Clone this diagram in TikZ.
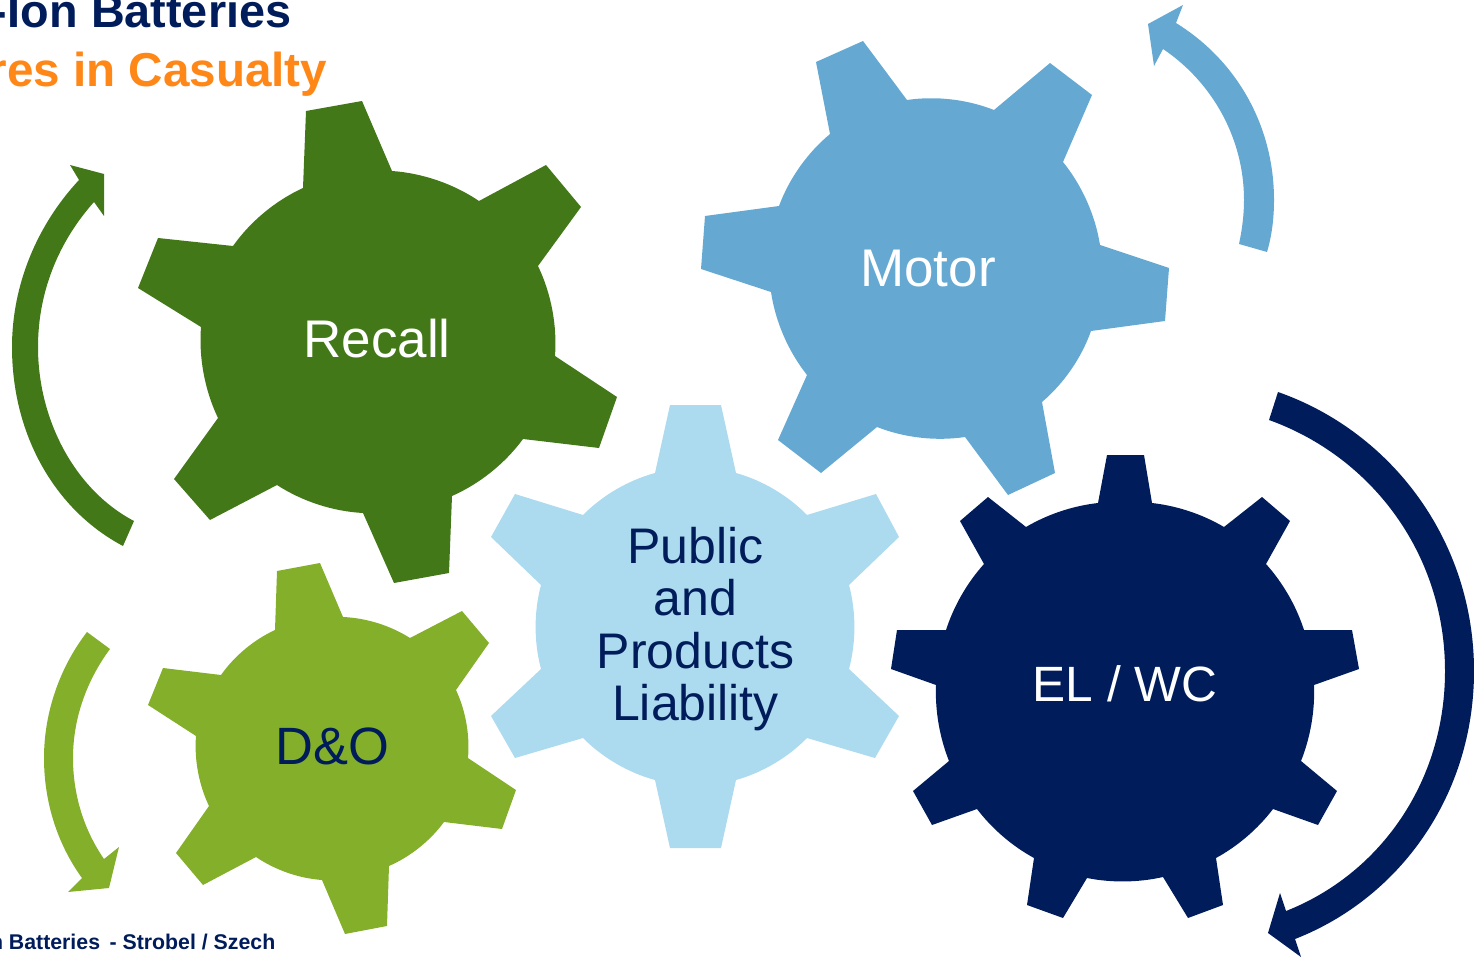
\documentclass[tikz,border=0pt]{standalone}
\usepackage{fontspec}
\setmainfont{Liberation Sans}
\definecolor{dgreen}{HTML}{437818}
\definecolor{lgreen}{HTML}{84AF2A}
\definecolor{mblue}{HTML}{65A9D3}
\definecolor{lblue}{HTML}{ACDAEE}
\definecolor{navy}{HTML}{001C5A}
\definecolor{orng}{HTML}{FF8717}
\newcommand{\fsz}[1]{\fontsize{#1}{#1}\selectfont}
\tikzset{
  gearlabel/.style={inner sep=0pt,align=center},
  biglabel/.style={gearlabel,font=\fsz{53}},
  head/.style={anchor=base east,inner sep=0pt,font=\fsz{47.6}\bfseries},
  gearsix/.style={every to/.style={bend left=15,looseness=0.85}},
  gearnine/.style={every to/.style={bend left=12,looseness=0.85}},
}
\begin{document}
\begin{tikzpicture}[x=1pt,y=-1pt]
\useasboundingbox (0,0) rectangle (1474,957);
\clip (0,0) rectangle (1474,957);
% titles
\node[head,text=navy,font=\fsz{46.8}\bfseries] (t1) at (291.5,28) {-\kern1pt Ion Batteries};
\node[head,text=orng] (t2) at (327.5,87) {res in Casualty};
\node[anchor=base east,inner sep=0pt,font=\fsz{21.3}\bfseries,text=navy] (t3) at (275.5,949) {n Batteries \,- Strobel / Szech};
% Recall
\fill[dgreen,gearsix] (303,188)--(306,111)--(362,101)--(392,171) to
 (479,201)--(546,165)--(581,207)--(538,266) to
 (555,356)--(617,397)--(599,448)--(523,439) to
 (452,496)--(449,573)--(394,583)--(363,513) to
 (277,485)--(210,520)--(174,479)--(218,418) to
 (201,327)--(138,288)--(158,238)--(233,246) to (303,188)--cycle;
% Motor
\fill[mblue,gearsix] (830,134)--(816,62)--(863,41)--(907,100) to
 (994,110)--(1050,63)--(1092,95)--(1063,162) to
 (1100,245)--(1169,268)--(1165,321)--(1091,331) to
 (1042,402)--(1055,473)--(1008,495)--(965,437) to
 (877,427)--(821,473)--(778,440)--(807,375) to
 (771,292)--(701,269)--(705,216)--(779,206) to (830,134)--cycle;
% Public
\fill[lblue,gearsix] (655,473)--(670,405)--(721,405)--(736,473) to
 (807,515)--(876,494)--(899,537)--(849,585) to
 (849,669)--(899,716)--(875,758)--(807,738) to
 (736,780)--(721,848)--(670,848)--(655,780) to
 (583,738)--(515,758)--(491,716)--(541,669) to
 (541,585)--(491,537)--(515,494)--(583,515) to (655,473)--cycle;
% EL/WC
\fill[navy,gearnine] (1098,503)--(1107,455)--(1144,455)--(1152,503) to
 (1224,527)--(1262,497)--(1290,521)--(1266,564) to
 (1304,630)--(1352,630)--(1359,669)--(1314,685) to
 (1301,761)--(1337,791)--(1318,825)--(1273,809) to
 (1216,858)--(1223,905)--(1188,918)--(1163,877) to
 (1087,878)--(1063,918)--(1027,905)--(1034,858) to
 (977,809)--(932,825)--(913,791)--(949,761) to
 (936,685)--(891,669)--(897,630)--(946,630) to
 (984,564)--(960,521)--(988,497)--(1026,527) to (1098,503)--cycle;
% D&O
\fill[lgreen,gearsix] (275,630)--(277,571)--(320,563)--(343,617) to
 (410,638)--(462,611)--(489,643)--(456,690) to
 (468,758)--(516,790)--(502,829)--(444,822) to
 (389,866)--(387,926)--(345,934)--(322,880) to
 (256,857)--(203,885)--(176,853)--(209,806) to
 (196,736)--(148,705)--(163,668)--(221,675) to (275,630)--cycle;
% arrows
\fill[dgreen] (123,546) .. controls (55,510) and (12,435) .. (12,347)
  .. controls (12,285) and (37,225) .. (79,180) -- (70,165) -- (104,174) -- (104,216) -- (94,202)
  .. controls (60,240) and (38,290) .. (38,347)
  .. controls (38,420) and (75,490) .. (134,521) -- cycle;
\fill[lgreen] (87,632) .. controls (60,667) and (44,712) .. (44,758)
  .. controls (44,803) and (58,845) .. (82,878) -- (68,892) -- (109,888) -- (119,847) -- (104,859)
  .. controls (84,830) and (73,795) .. (73,758)
  .. controls (73,718) and (87,680) .. (110,649) -- cycle;
\fill[mblue] (1267,252) .. controls (1272,235) and (1274,218) .. (1274,200)
  .. controls (1274,125) and (1236,60) .. (1176,23) -- (1183,5) -- (1148,24) -- (1154,66) -- (1163,49)
  .. controls (1212,82) and (1244,138) .. (1244,200)
  .. controls (1244,215) and (1242,230) .. (1239,244) -- cycle;
\fill[navy] (1278,392) .. controls (1392,432) and (1474,541) .. (1474,671)
  .. controls (1474,795) and (1400,898) .. (1295,939) -- (1301,957) -- (1268,933) -- (1280,893) -- (1286,911)
  .. controls (1380,874) and (1445,782) .. (1445,671)
  .. controls (1445,554) and (1372,457) .. (1269,420) -- cycle;
% labels
\node[biglabel,text=white] (recall) at (377,339) {Recall};
\node[biglabel,text=white] (motor) at (928,269) {Motor};
\node[gearlabel,text=white,font=\fsz{49.6}] (elwc) at (1125,684) {EL / WC};
\node[gearlabel,text=navy,font=\fsz{52.5}] (dando) at (332.5,746) {D\&O};
\node[gearlabel,text=navy,font=\fontsize{50}{52.5}\selectfont] (pub) at (695.5,629) {Public\\and\\Products\\Liability};
\end{tikzpicture}
\end{document}
